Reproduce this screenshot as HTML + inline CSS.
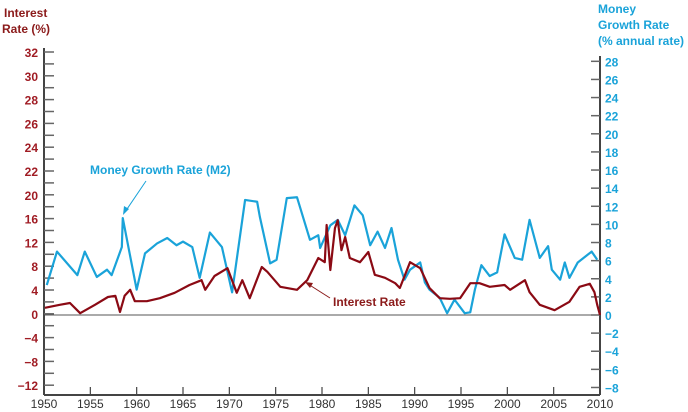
<!DOCTYPE html>
<html><head><meta charset="utf-8"><style>
body{margin:0;background:#fff;}
svg{display:block;font-family:"Liberation Sans",sans-serif;}
</style></head><body>
<svg id="c" width="688" height="412">
<text x="4" y="17" fill="#8b1a1a" font-size="12" font-weight="bold">Interest</text>
<text x="2" y="33" fill="#8b1a1a" font-size="12" font-weight="bold">Rate (%)</text>
<text x="598" y="13" fill="#1aa3d9" font-size="12" font-weight="bold">Money</text>
<text x="598" y="29" fill="#1aa3d9" font-size="12" font-weight="bold">Growth Rate</text>
<text x="598" y="45" fill="#1aa3d9" font-size="12" font-weight="bold">(% annual rate)</text>
<text x="90" y="174" fill="#1aa3d9" font-size="12" font-weight="bold">Money Growth Rate (M2)</text>
<line x1="146" y1="181" x2="125" y2="212" stroke="#1aa3d9" stroke-width="1"/>
<polygon points="123,215 124,206 129,209" fill="#1aa3d9"/>
<text x="333" y="306" fill="#8b1a1a" font-size="12" font-weight="bold">Interest Rate</text>
<line x1="330" y1="298" x2="308" y2="284" stroke="#8b1a1a" stroke-width="1"/>
<polygon points="305,282 313,283 310,288" fill="#8b1a1a"/>
<g id="g"></g>
</svg>
<script>
const m2Years=[1950.3,1951.4,1953.6,1954.4,1955.7,1956.8,1957.3,1958.4,1958.5,1960.0,1960.9,1962.2,1963.3,1964.3,1965.0,1966.0,1966.8,1967.9,1969.2,1970.3,1971.7,1973.0,1973.3,1974.4,1975.1,1976.2,1977.3,1978.7,1979.6,1979.8,1980.9,1981.7,1982.5,1983.5,1984.4,1985.2,1986.0,1986.8,1987.5,1988.2,1988.9,1989.5,1990.6,1991.1,1991.6,1992.7,1993.5,1994.3,1995.4,1996.0,1996.5,1997.2,1998.1,1998.9,1999.7,2000.8,2001.6,2002.4,2003.5,2004.4,2004.8,2005.7,2006.2,2006.7,2007.6,2009.1,2009.7];
const m2=[3.3,7.0,4.4,7.0,4.2,5.0,4.4,7.5,10.7,2.8,6.8,7.9,8.5,7.7,8.1,7.5,4.1,9.1,7.5,2.5,12.7,12.5,10.8,5.7,6.1,12.9,13.0,8.3,8.8,7.4,9.9,10.5,8.8,12.1,11.0,7.7,9.2,7.4,9.6,6.1,3.9,5.0,5.8,3.6,2.8,1.9,0.2,1.7,0.2,0.3,2.8,5.5,4.3,4.7,8.9,6.3,6.1,10.5,6.3,7.6,5.0,3.9,5.8,4.1,5.8,7.0,6.1];
const irYears=[1950.1,1951.7,1952.8,1953.9,1955.5,1956.9,1957.7,1958.2,1958.7,1959.3,1959.8,1961.1,1962.5,1964.1,1965.7,1967.0,1967.4,1968.4,1969.8,1970.8,1971.4,1972.2,1973.5,1974.1,1975.5,1977.3,1978.4,1979.6,1980.3,1980.5,1980.9,1981.4,1981.7,1982.1,1982.5,1983.0,1984.1,1985.0,1985.7,1986.8,1987.9,1988.4,1989.5,1990.6,1991.6,1992.7,1993.8,1994.9,1996.0,1997.0,1998.1,1999.7,2000.3,2001.9,2002.4,2003.5,2005.1,2006.7,2007.8,2008.9,2009.4,2009.7,2010.0];
const ir=[1.2,1.7,2.0,0.3,1.7,3.0,3.2,0.5,3.2,4.2,2.3,2.3,2.8,3.7,5.0,5.8,4.2,6.5,7.8,3.7,5.8,2.8,8.0,7.2,4.7,4.2,5.8,9.5,8.8,15.0,7.5,14.5,15.8,10.8,13.0,9.5,8.8,10.5,6.7,6.2,5.3,4.5,8.8,7.8,4.5,2.8,2.7,2.8,5.3,5.3,4.7,5.0,4.2,5.8,3.8,1.7,0.8,2.2,4.7,5.2,3.8,1.7,0.0];
const leftLabels=["32","30","28","26","24","22","20","16","12","8","4","0","\u22124","\u22128","\u221212"];
const rightTicks=[28,26,24,22,20,18,16,14,12,10,8,6,4,2,0,-2,-4,-6,-8];
const xTicks=[1950,1955,1960,1965,1970,1975,1980,1985,1990,1995,2000,2005,2010];
const X0=44,X1=600;
const xs=y=>X0+(y-1950)*(X1-X0)/60;
const yL=v=>315-6*v;
const yR=v=>315-9.06*v;
const g=document.getElementById('g');
const NS='http://www.w3.org/2000/svg';
function mk(t,a){const e=document.createElementNS(NS,t);for(const k in a)e.setAttribute(k,a[k]);g.appendChild(e);return e;}
let e;
e=mk('line',{x1:X0,y1:315,x2:X1,y2:315,stroke:'#555','stroke-width':1});


e=mk('line',{x1:X0,y1:48,x2:X0,y2:395,stroke:'#444','stroke-width':2});


e=mk('line',{x1:X1,y1:56,x2:X1,y2:395,stroke:'#444','stroke-width':2});


e=mk('line',{x1:X0,y1:395,x2:X1,y2:395,stroke:'#444','stroke-width':2});


leftLabels.forEach((l,i)=>{
  const y=52+i*23.8;
  e=mk('line',{x1:X0,y1:y,x2:X0+10,y2:y,stroke:'#666','stroke-width':1.5});
  
  
  if(i<leftLabels.length-1){e=mk('line',{x1:X0,y1:y+11.9,x2:X0+10,y2:y+11.9,stroke:'#666','stroke-width':1.5});
  
  }
  e=mk('text',{x:38,y:y+5,'text-anchor':'end',fill:'#a01c24','font-size':12,'font-weight':'bold'});
  e.textContent=l;
  
  
});
rightTicks.forEach(v=>{
  const y=yR(v);
  e=mk('line',{x1:X1-9,y1:y,x2:X1,y2:y,stroke:'#666','stroke-width':1.5});
  
  
  e=mk('text',{x:605,y:y+5,fill:'#1aa3d9','font-size':12,'font-weight':'bold'});
  e.textContent=v<0?'\u2212'+(-v):String(v);
  
  
});
xTicks.forEach(t=>{
  const x=xs(t);
  e=mk('line',{x1:x,y1:395,x2:x,y2:387,stroke:'#444','stroke-width':1.2});
  
  
  e=mk('text',{x:x,y:408,'text-anchor':'middle',fill:'#333','font-size':12});
  e.textContent=t;
  
  
});
e=mk('polyline',{points:m2Years.map((y,i)=>xs(y)+','+yR(m2[i])).join(' '),fill:'none',stroke:'#1aa3d9','stroke-width':2.2,'stroke-linejoin':'round'});


e=mk('polyline',{points:irYears.map((y,i)=>xs(y)+','+yL(ir[i])).join(' '),fill:'none',stroke:'#8b0a14','stroke-width':2.2,'stroke-linejoin':'round'});


</script>
</body></html>
